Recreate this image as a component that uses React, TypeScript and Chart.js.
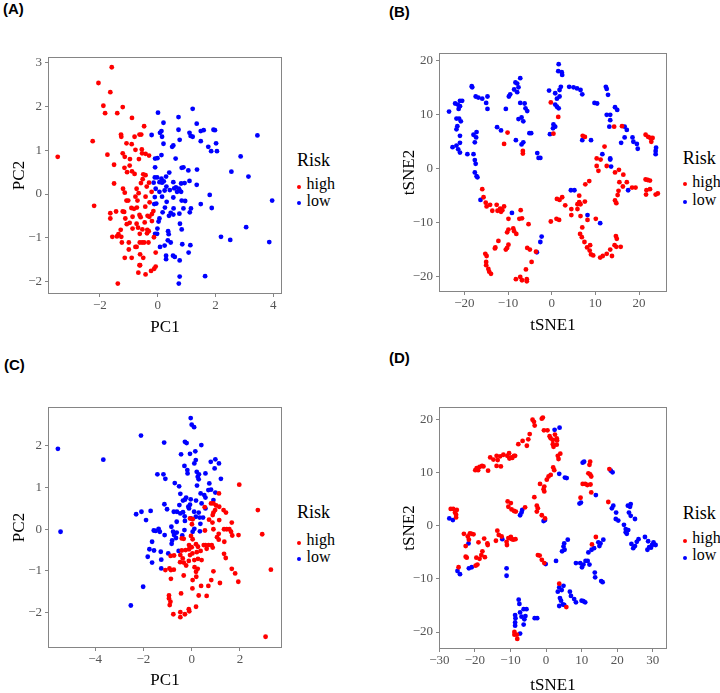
import React, { useEffect, useRef } from "react";
import { Chart, registerables } from "chart.js";

Chart.register(...registerables);

// ---------- Data ----------
// Panel A (PCA)
const aHigh: [number, number][] = [
  [-3.46, 0.85], [-2.05, 2.54], [-1.59, 2.9], [-1.64, 2.33], [-1.88, 2.02], [-1.82, 1.85], [-1.4, 1.85],
  [-1.21, 1.99], [-0.89, 1.74], [-0.47, 1.55], [-2.25, 1.21], [-1.74, 0.9], [-1.27, 1.36], [-1.26, 1.31],
  [-1.08, 1.16], [-0.8, 1.31], [-0.63, 1.36], [-0.57, 1.36], [-0.9, 1.14], [-0.77, 1.01], [-0.55, 1.02],
  [-0.54, 0.93], [-0.42, 0.92], [-0.3, 0.88], [-1.21, 0.93], [-1.14, 0.85], [-0.96, 0.8], [-0.65, 0.8],
  [-1.51, 0.67], [-1.15, 0.6], [-0.97, 0.65], [-1.06, 0.5], [-0.89, 0.52], [-0.8, 0.46], [-0.5, 0.45],
  [-0.42, 0.43], [-0.52, 0.34], [-0.58, 0.25], [-0.3, 0.26], [-1.51, 0.24], [-1.2, 0.12], [-1.14, 0.03],
  [-0.73, 0.12], [-0.66, 0.02], [-0.38, 0.17], [-0.21, 0.05], [-2.2, -0.27], [-1.08, -0.15], [-1.02, -0.15],
  [-0.77, -0.06], [-0.7, -0.15], [-0.42, -0.06], [-0.28, -0.19], [-0.91, -0.32], [-0.82, -0.34], [-0.72, -0.31],
  [-0.43, -0.29], [-1.21, -0.4], [-1.44, -0.4], [-1.16, -0.41], [-1.64, -0.44], [-1.64, -0.56], [-1.12, -0.56],
  [-0.87, -0.52], [-0.63, -0.48], [-0.59, -0.53], [-0.35, -0.5], [-0.29, -0.52], [-0.15, -0.39], [-0.2, -0.46],
  [-0.97, -0.66], [-1.07, -0.69], [-0.73, -0.68], [-0.45, -0.65], [-0.2, -0.62], [-1.28, -0.82], [-0.87, -0.79],
  [-0.68, -0.77], [-0.53, -0.81], [-0.36, -0.82], [-0.31, -0.85], [-1.36, -0.92], [-1.41, -0.97], [-1.57, -0.98],
  [-1.26, -0.98], [-0.62, -0.91], [-0.37, -0.9], [-0.13, -0.99], [-1.24, -1.11], [-1.0, -1.11], [-0.62, -1.11],
  [-0.54, -1.11], [-0.47, -1.11], [-0.32, -1.11], [-0.73, -1.21], [-1.0, -1.27], [-0.77, -1.21], [-0.07, -1.34],
  [-1.14, -1.46], [-0.9, -1.46], [-0.61, -1.38], [-0.5, -1.46], [-0.63, -1.63], [-0.67, -1.8], [-0.42, -1.84],
  [-0.23, -1.76], [-0.07, -1.66], [-0.12, -1.71], [-1.38, -2.05], [-0.61, -1.63],
];
const aLow: [number, number][] = [
  [0.01, 1.86], [1.21, 1.95], [0.72, 1.76], [0.2, 1.63], [1.35, 1.61], [-0.21, 1.35], [0.08, 1.4], [0.13, 1.44],
  [0.15, 1.31], [0.72, 1.47], [1.1, 1.4], [1.14, 1.33], [1.21, 1.31], [0.76, 1.24], [1.49, 1.44], [1.59, 1.46],
  [1.93, 1.47], [1.98, 1.46], [1.49, 1.21], [0.2, 1.15], [0.5, 1.08], [0.54, 1.11], [1.75, 1.08], [1.85, 0.98],
  [2.02, 1.16], [2.05, 0.98], [3.45, 1.34], [2.87, 0.86], [-0.09, 0.81], [-0.01, 0.82], [0.13, 0.89], [0.62, 0.81],
  [-0.09, 0.61], [0.83, 0.6], [0.89, 0.61], [1.06, 0.54], [1.36, 0.56], [2.55, 0.51], [3.14, 0.4], [0.4, 0.49],
  [0.29, 0.4], [-0.1, 0.38], [-0.02, 0.38], [0.13, 0.35], [0.06, 0.27], [0.15, 0.26], [0.21, 0.29], [-0.14, 0.26],
  [1.1, 0.3], [0.93, 0.25], [0.81, 0.24], [1.35, 0.21], [0.54, 0.27], [0.3, 0.17], [-0.07, 0.12], [0.06, 0.05],
  [0.24, 0.08], [0.42, 0.09], [0.57, 0.13], [0.63, 0.15], [0.67, 0.05], [0.76, 0.08], [0.73, 0.12], [0.81, 0.05],
  [1.8, -0.02], [3.96, -0.15], [-0.1, -0.07], [0.15, -0.06], [0.54, -0.08], [0.83, -0.15], [0.95, -0.16],
  [-0.05, -0.22], [-0.12, -0.23], [0.31, -0.18], [1.49, -0.23], [1.87, -0.32], [0.25, -0.31], [0.55, -0.33],
  [0.89, -0.33], [1.15, -0.33], [0.17, -0.42], [0.45, -0.43], [0.75, -0.45], [1.11, -0.42], [0.54, -0.47],
  [0.39, -0.5], [0.06, -0.56], [0.03, -0.63], [0.77, -0.68], [0.83, -0.81], [-0.01, -0.79], [3.06, -0.76],
  [-0.09, -0.91], [-0.02, -0.91], [0.36, -0.85], [0.38, -0.92], [2.19, -0.98], [2.51, -1.05], [3.86, -1.1],
  [0.35, -1.06], [0.45, -1.11], [0.08, -1.21], [0.24, -1.18], [0.85, -1.15], [1.13, -1.17], [1.07, -1.34],
  [0.29, -1.41], [0.29, -1.49], [0.53, -1.41], [0.59, -1.44], [0.76, -1.52], [0.76, -1.89], [1.64, -1.88],
  [0.73, -2.05],
];

// Panel B (t-SNE)
const bHigh: [number, number][] = [
  [-0.2, 12.3], [1.5, 9.6], [0.4, 6.5], [-10.1, 6.7], [-10.9, 4.6], [-6.6, 3.3], [-6.6, 2.8], [7.1, 6.1],
  [7.6, 5.9], [12.1, 4.1], [14.3, 7.8], [16.1, 7.9], [21.5, 6.3], [22.1, 5.9], [22.6, 5.7], [23.1, 5.7],
  [22.8, 5.0], [10.3, 1.9], [11.2, 1.7], [10.3, 0.5], [10.7, -0.4], [12.6, 0.5], [14.5, -0.7], [15.4, -0.2],
  [16.4, -1.1], [15.5, -2.5], [17.2, -2.5], [16.3, -3.3], [15.3, -4.1], [15.1, -4.9], [14.5, -5.9], [14.8, -6.4],
  [18.4, -3.5], [19.2, -3.5], [21.5, -2.0], [22.0, -2.1], [22.5, -2.2], [21.7, -4.0], [22.5, -3.8], [21.6, -4.8],
  [23.8, -4.8], [24.3, -4.6], [8.6, -2.3], [7.7, -2.9], [1.8, -5.8], [1.2, -5.6], [2.4, -5.3], [-0.2, -9.8],
  [1.1, -9.3], [1.7, -9.5], [3.1, -6.8], [4.5, -7.5], [4.5, -8.6], [5.9, -7.5], [5.9, -6.6], [6.3, -6.2],
  [6.6, -6.6], [6.3, -5.0], [7.6, -6.1], [6.6, -8.8], [8.2, -9.5], [7.0, -10.9], [6.5, -12.1], [6.9, -12.7],
  [7.5, -13.6], [8.1, -14.6], [8.7, -15.2], [8.8, -14.2], [9.0, -15.9], [9.5, -16.1], [11.1, -16.5], [11.7, -16.2],
  [12.6, -15.8], [13.4, -15.0], [13.8, -16.2], [14.4, -14.2], [14.8, -14.5], [14.7, -12.5], [14.9, -13.0],
  [15.8, -14.5], [10.1, -9.3], [-15.9, -3.8], [-15.6, -5.3], [-15.1, -6.3], [-14.9, -7.0], [-14.1, -6.7],
  [-13.6, -7.8], [-12.6, -6.7], [-12.4, -7.8], [-11.8, -7.4], [-11.3, -7.7], [-10.9, -7.0], [-11.6, -8.0],
  [-9.9, -9.3], [-10.2, -11.8], [-9.9, -11.3], [-8.8, -11.1], [-8.6, -11.6], [-7.4, -9.3], [-7.1, -7.7],
  [-6.8, -9.2], [-5.3, -10.3], [-8.1, -12.1], [-12.2, -13.4], [-12.9, -14.6], [-13.0, -14.8], [-10.5, -15.0],
  [-10.2, -14.7], [-9.9, -14.1], [-15.2, -15.8], [-14.9, -16.2], [-15.0, -17.3], [-15.0, -17.9], [-14.5, -18.6],
  [-14.3, -19.1], [-13.9, -19.5], [-8.2, -20.5], [-7.2, -20.1], [-6.8, -20.7], [-5.7, -20.5], [-5.7, -20.9],
  [-5.9, -18.7], [-4.6, -17.3], [-5.6, -14.7], [-5.0, -15.0], [-3.6, -15.4],
];
const bLow: [number, number][] = [
  [-23.5, 10.6], [-22.7, 4.0], [-22.1, 12.1], [-21.5, 11.9], [-21.0, 12.6], [-20.5, 12.6], [-21.3, 11.1],
  [-21.0, 11.6], [-21.8, 9.3], [-21.2, 9.3], [-20.8, 8.8], [-21.6, 7.9], [-21.8, 7.3], [-21.0, 6.1], [-21.0, 4.8],
  [-21.8, 4.3], [-21.4, 3.6], [-21.0, 3.0], [-19.3, 2.7], [-18.3, 15.3], [-18.2, 15.1], [-17.4, 13.4],
  [-16.8, 13.2], [-15.9, 13.0], [-14.7, 13.4], [-15.0, 12.2], [-14.7, 11.1], [-17.9, 6.3], [-17.2, 6.8],
  [-17.3, 5.8], [-17.6, 4.9], [-17.9, 2.7], [-17.6, 1.6], [-17.4, 0.9], [-17.6, -0.7], [-17.2, -1.4],
  [-17.0, -1.6], [-16.3, -5.8], [-12.5, 7.7], [-11.6, 7.1], [-10.5, 11.1], [-9.8, 13.4], [-9.5, 13.8],
  [-8.6, 14.7], [-8.3, 16.0], [-7.9, 15.8], [-7.6, 15.1], [-7.2, 16.8], [-7.9, 14.2], [-7.2, 12.2], [-6.2, 12.1],
  [-6.0, 11.2], [-5.6, 10.7], [-7.6, 9.2], [-6.9, 9.5], [-6.5, 8.8], [-8.2, 5.3], [-6.5, 4.9], [-6.9, 4.5],
  [-5.1, 6.6], [-4.7, 6.6], [-3.3, 2.9], [-3.0, 2.0], [-2.6, 2.0], [-9.1, -8.2], [-3.4, -15.5], [-2.6, -13.6],
  [-2.3, -12.6], [-0.6, 14.5], [-0.4, 6.4], [0.3, 7.5], [0.4, 8.2], [0.8, 7.8], [0.8, 11.9], [0.8, 14.0],
  [1.2, 13.0], [1.6, 19.4], [1.5, 18.1], [2.3, 17.9], [2.4, 17.4], [1.8, 14.6], [1.8, 13.4], [2.1, 15.2],
  [1.2, 11.5], [1.6, 11.2], [4.0, 15.2], [5.0, 15.1], [5.8, 14.9], [6.6, 14.6], [7.0, 13.8], [9.8, 12.2],
  [10.4, 12.1], [12.4, 15.2], [12.6, 14.8], [12.9, 13.7], [12.6, 10.0], [13.4, 10.0], [13.4, 9.0], [13.2, 7.8],
  [14.5, 11.4], [15.0, 10.9], [16.7, 7.8], [17.2, 7.2], [16.7, 5.8], [15.9, 4.8], [18.5, 5.8], [18.7, 5.0],
  [19.5, 4.6], [19.7, 3.7], [23.9, 3.9], [23.8, 3.3], [23.8, 2.7], [7.0, 5.3], [9.0, 5.3], [11.6, 2.7],
  [13.4, 1.7], [13.6, 0.4], [13.4, 1.9], [4.4, -4.0], [5.2, -4.0], [8.2, -8.6], [11.1, -10.1], [17.5, -4.0],
];

// Panel C (PCA)
const cHigh: [number, number][] = [
  [1.97, 1.07], [1.13, 0.86], [0.8, 0.62], [0.9, 0.62], [1.01, 0.57], [1.14, 0.54], [0.54, 0.53], [0.97, 0.46],
  [0.9, 0.4], [0.87, 0.34], [1.32, 0.46], [1.42, 0.4], [0.04, 0.24], [-0.07, 0.26], [0.72, 0.23], [1.14, 0.22],
  [0.86, 0.16], [1.66, 0.16], [2.74, 0.46], [2.92, -0.12], [3.28, -0.97], [3.06, -2.58], [0.01, 0.12],
  [0.55, -0.03], [0.9, 0.0], [1.12, -0.11], [1.34, 0.0], [1.45, 0.0], [1.56, 0.0], [1.63, -0.06], [1.68, -0.15],
  [1.94, -0.14], [1.05, -0.19], [1.12, -0.25], [1.35, -0.3], [-0.41, -0.22], [-0.33, -0.23], [-0.03, -0.16],
  [0.04, -0.24], [0.18, -0.36], [-0.11, -0.38], [0.0, -0.43], [-0.11, -0.48], [-0.25, -0.5], [-0.41, -0.51],
  [0.26, -0.42], [0.37, -0.52], [0.5, -0.38], [0.57, -0.38], [0.7, -0.38], [0.83, -0.38], [0.62, -0.47],
  [0.87, -0.44], [-0.47, -0.62], [-0.87, -0.64], [-0.73, -0.63], [-0.37, -0.7], [-0.07, -0.62], [0.03, -0.58],
  [0.21, -0.55], [0.26, -0.71], [0.11, -0.74], [0.41, -0.74], [1.34, -0.59], [1.41, -0.69], [-0.48, -0.79],
  [-0.33, -0.8], [-0.12, -0.76], [-0.23, -0.87], [0.12, -0.91], [-1.09, -0.98], [-0.92, -0.94], [-0.86, -0.98],
  [-0.74, -0.97], [0.18, -1.02], [0.25, -0.95], [0.9, -1.01], [1.66, -0.95], [1.8, -1.06], [-0.86, -1.19],
  [-0.33, -1.11], [0.04, -1.22], [0.19, -1.14], [0.81, -1.22], [1.17, -1.29], [1.93, -1.26], [0.03, -1.42],
  [0.39, -1.36], [0.69, -1.36], [-0.44, -1.54], [-0.94, -1.59], [-0.94, -1.66], [-0.88, -1.74], [-0.91, -1.82],
  [0.29, -1.59], [0.62, -1.6], [0.18, -1.86], [-0.76, -2.04], [-0.47, -1.99], [-0.47, -2.11], [-0.28, -2.04],
  [-0.12, -1.92], [-0.1, -1.97],
];
const cLow: [number, number][] = [
  [-5.54, 1.93], [-5.43, -0.06], [-3.66, 1.67], [-2.1, 2.25], [-2.3, 0.36], [-2.52, -1.83], [-2.01, -1.38],
  [-1.14, 2.08], [-1.42, 1.32], [-1.17, 1.32], [-1.09, 1.21], [-0.7, 1.11], [-0.52, 1.03], [-0.04, 2.67],
  [0.0, 2.51], [0.1, 2.45], [-0.28, 2.1], [-0.21, 2.07], [-0.44, 1.8], [-0.07, 1.81], [0.15, 1.87], [0.4, 2.02],
  [-0.3, 1.52], [0.17, 1.66], [0.11, 1.58], [-0.18, 1.42], [-0.17, 1.34], [0.21, 1.38], [0.3, 1.32], [0.25, 1.26],
  [0.29, 1.2], [0.57, 1.34], [0.79, 1.62], [0.98, 1.68], [1.13, 1.58], [0.95, 1.46], [1.21, 1.21], [0.22, 1.05],
  [0.73, 1.1], [0.8, 0.95], [0.69, 0.94], [0.98, 0.88], [-0.47, 0.85], [0.37, 0.86], [0.52, 0.82], [-0.23, 0.76],
  [-0.28, 0.71], [-0.36, 0.69], [-0.04, 0.72], [0.18, 0.69], [0.41, 0.62], [0.57, 0.76], [0.9, 0.7], [-1.13, 0.6],
  [-1.02, 0.48], [-0.51, 0.58], [-0.14, 0.54], [-0.07, 0.59], [-0.11, 0.5], [0.1, 0.42], [0.29, 0.4], [0.57, 0.5],
  [-0.74, 0.42], [-0.61, 0.42], [-0.47, 0.38], [-0.36, 0.41], [-0.29, 0.31], [-0.28, 0.2], [-0.62, 0.18],
  [-0.03, 0.26], [0.17, 0.3], [0.33, 0.28], [0.47, 0.28], [0.36, 0.13], [-2.08, 0.42], [-1.89, 0.22],
  [-1.7, 0.44], [-0.84, 0.06], [-1.57, -0.03], [-1.49, -0.04], [-1.37, 0.01], [-1.32, -0.06], [-1.12, -0.14],
  [-0.77, -0.06], [-0.73, -0.14], [-0.62, -0.08], [-1.64, -0.3], [-0.81, -0.27], [-0.83, -0.35], [-0.65, -0.21],
  [-0.39, -0.15], [-0.3, -0.02], [0.04, -0.06], [0.11, 0.01], [0.34, -0.05], [-1.75, -0.48], [-1.56, -0.51],
  [-1.82, -0.66], [-1.28, -0.54], [-1.64, -0.8], [-1.26, -0.73], [-0.97, -0.58], [-0.54, -0.52], [-1.26, -0.94],
];

// Panel D (t-SNE)
const dHigh: [number, number][] = [
  [-3.8, 20.0], [-3.4, 19.6], [-3.2, 18.9], [-1.2, 20.2], [-0.9, 20.4], [-0.6, 18.0], [0.4, 18.0], [1.3, 16.5],
  [1.9, 16.2], [3.0, 16.5], [3.1, 16.1], [2.5, 17.2], [1.9, 15.4], [2.1, 14.9], [3.0, 15.3], [1.0, 16.9],
  [-7.8, 15.4], [-6.6, 16.0], [-5.4, 15.1], [-5.0, 16.3], [-4.6, 17.3], [3.3, 13.2], [4.0, 13.6], [3.5, 12.6],
  [-12.0, 13.4], [-10.9, 13.2], [-10.3, 12.7], [-9.8, 12.9], [-9.5, 12.8], [-8.7, 13.2], [-10.4, 13.7],
  [-9.0, 13.2], [-13.9, 13.2], [-13.6, 12.4], [-12.9, 13.1], [-14.8, 12.5], [-15.7, 12.9], [-12.7, 11.2],
  [-13.9, 11.3], [-16.3, 10.4], [-17.6, 11.2], [-18.0, 11.3], [-18.7, 11.1], [-19.5, 10.9], [-19.1, 10.5],
  [-19.9, 10.5], [2.3, 10.5], [2.0, 11.0], [1.3, 9.6], [0.7, 9.3], [0.2, 8.7], [-0.5, 7.4], [-0.7, 6.9],
  [-0.5, 6.5], [-1.7, 7.9], [-3.3, 5.4], [-2.6, 3.8], [-2.3, 3.3], [-2.6, 2.7], [-1.2, 2.0], [-0.3, 1.4],
  [-10.8, 4.6], [-9.9, 4.3], [-10.6, 3.6], [-9.7, 3.1], [-9.0, 2.8], [-8.5, 2.7], [-5.9, 3.5], [12.4, 12.1],
  [12.2, 11.5], [11.9, 9.9], [12.4, 9.7], [12.7, 9.3], [10.3, 7.9], [11.0, 7.9], [11.6, 7.7], [12.5, 7.8],
  [12.7, 6.3], [9.7, 5.3], [17.8, 10.7], [17.5, 4.5], [12.9, -3.5], [14.0, -2.1], [-26.8, 3.2], [-26.1, 3.2],
  [-25.1, 3.0], [-25.6, 2.5], [-25.3, 2.1], [-25.3, 1.6], [-24.6, -7.8], [-23.1, -1.5], [-22.0, -2.0],
  [-21.4, -1.4], [-20.9, -1.5], [-20.4, -1.6], [-21.7, -2.6], [-22.6, -3.8], [-22.6, -5.8], [-22.3, -6.0],
  [-19.0, -3.1], [-17.4, -2.4], [-16.5, -3.3], [-16.4, -3.6], [-17.9, -4.8], [-18.2, -5.5], [-17.2, -5.9],
  [-19.6, -6.0], [-19.8, -7.5], [-19.3, -7.3], [-18.7, -6.2], [-13.7, -0.9], [-14.1, -2.8], [-13.3, -1.7],
  [-12.5, -2.0], [-11.1, -3.0], [-11.0, -3.6], [-10.3, -2.3], [-9.9, -2.1], [-9.6, -2.5], [-9.2, -2.6],
  [-8.6, -2.5], [-10.6, -2.3], [-2.3, -5.5], [-1.8, -5.6], [-1.2, -6.4], [-0.5, -7.0], [3.7, -10.9],
  [5.7, -15.3], [-8.9, -20.5], [-8.2, -20.5], [-8.1, -21.3], [-8.9, -20.0],
];
const dLow: [number, number][] = [
  [2.4, 18.1], [3.8, 18.5], [3.7, 9.8], [5.3, 9.1], [5.8, 9.0], [10.7, 12.1], [10.3, 11.9], [14.0, 5.8],
  [9.4, 4.2], [9.8, 4.4], [18.2, 10.4], [18.7, 10.1], [18.5, 3.3], [18.9, 3.8], [19.7, 2.5], [19.6, 1.3],
  [20.3, 1.0], [21.9, 0.2], [22.4, -0.6], [22.4, -1.2], [22.7, -1.5], [23.1, -0.8], [23.0, 3.8], [23.8, 4.1],
  [23.6, 3.6], [23.3, 2.5], [23.8, 1.9], [25.0, 1.3], [24.0, -3.4], [24.5, -4.2], [25.0, -3.8], [25.5, -3.0],
  [26.0, -2.5], [27.8, -2.1], [28.7, -2.9], [28.5, -4.5], [29.0, -4.0], [29.5, -4.1], [30.2, -3.1], [30.8, -3.6],
  [29.8, -3.6], [-27.2, 1.4], [-26.2, 1.1], [-24.9, -8.5], [-24.2, -9.1], [-21.8, -3.3], [-21.7, -8.0],
  [-20.9, -7.8], [-12.3, -2.5], [-11.1, -8.0], [-11.1, -9.4], [-6.7, 3.0], [-7.3, 2.0], [-6.9, 2.5], [-0.7, 0.9],
  [-0.3, 1.1], [-0.1, -7.2], [2.8, -6.6], [4.5, -4.8], [4.9, -3.9], [5.1, -3.3], [6.1, -2.6], [5.2, -4.5],
  [8.4, -7.0], [9.6, -7.0], [10.5, -7.3], [11.1, -6.6], [11.7, -6.6], [12.2, -7.3], [10.1, -7.8], [11.9, -5.0],
  [12.8, -4.5], [13.5, -4.2], [14.7, -3.1], [15.3, -3.3], [16.1, -2.6], [15.0, -3.8], [13.7, -8.8], [13.8, -9.7],
  [15.5, -10.4], [15.9, -10.6], [3.3, -12.4], [3.7, -11.6], [4.4, -12.1], [4.9, -11.3], [3.9, -13.6],
  [4.2, -14.1], [3.7, -15.1], [4.7, -14.8], [5.1, -14.9], [6.7, -12.4], [7.0, -13.2], [7.9, -13.8], [8.4, -14.4],
  [10.0, -14.1], [10.5, -14.2], [11.0, -14.4], [-7.7, -13.9], [-7.5, -14.7], [-8.7, -16.8], [-8.6, -17.4],
  [-8.7, -18.2], [-8.7, -18.8], [-7.3, -16.3], [-6.9, -17.1], [-6.3, -15.7], [-5.5, -15.7], [-5.8, -17.0],
  [-6.1, -17.6], [-6.3, -18.6], [-7.3, -20.3], [-3.2, -17.4], [-2.5, -17.4],
];

// Tick values
const aXTicks = [-2, 0, 2, 4];
const aYTicks = [-2, -1, 0, 1, 2, 3];
const bXTicks = [-20, -10, 0, 10, 20];
const bYTicks = [-20, -10, 0, 10, 20];
const cXTicks = [-4, -2, 0, 2];
const cYTicks = [-2, -1, 0, 1, 2];
const dXTicks = [-30, -20, -10, 0, 10, 20, 30];
const dYTicks = [-20, -10, 0, 10, 20];

const groups = ["high", "low"];
const groupColors = ["#FF0000", "#0000FF"];

// ---------- Layout ----------
const WY = 40;
const HX = 50;
const PAD_T = 10;
const PAD_R = 10;
const SERIF = "'Liberation Serif', 'Times New Roman', serif";

type PanelCfg = {
  label: string;
  high: [number, number][];
  low: [number, number][];
  xTitle: string;
  yTitle: string;
  xTicks: number[];
  yTicks: number[];
  xMin: number; xMax: number; yMin: number; yMax: number;
  rect: { l: number; t: number; r: number; b: number };
  xTitleGap: number;
  yTitleGap: number;
  labelPos: { x: number; y: number };
  legend: { x: number; riskY: number; highY: number; lowY: number };
};

const panels: PanelCfg[] = [
  {
    label: "(A)", high: aHigh, low: aLow, xTitle: "PC1", yTitle: "PC2", xTicks: aXTicks, yTicks: aYTicks,
    xMin: -3.796, xMax: 4.301, yMin: -2.288, yMax: 3.135,
    rect: { l: 48, t: 57, r: 282, b: 294 }, xTitleGap: 34, yTitleGap: 28,
    labelPos: { x: 3, y: 9 }, legend: { x: 297, riskY: 161, highY: 185, lowY: 201.5 },
  },
  {
    label: "(B)", high: bHigh, low: bLow, xTitle: "tSNE1", yTitle: "tSNE2", xTicks: bXTicks, yTicks: bYTicks,
    xMin: -25.8, xMax: 26.4, yMin: -22.88, yMax: 21.47,
    rect: { l: 439, t: 53, r: 667, b: 292 }, xTitleGap: 34, yTitleGap: 29,
    labelPos: { x: 389, y: 11.5 }, legend: { x: 682.7, riskY: 159.3, highY: 182.7, lowY: 200.7 },
  },
  {
    label: "(C)", high: cHigh, low: cLow, xTitle: "PC1", yTitle: "PC2", xTicks: cXTicks, yTicks: cYTicks,
    xMin: -5.95, xMax: 3.74, yMin: -2.85, yMax: 2.935,
    rect: { l: 48, t: 407, r: 282, b: 648 }, xTitleGap: 33, yTitleGap: 28,
    labelPos: { x: 4, y: 365 }, legend: { x: 297, riskY: 512.7, highY: 541, lowY: 557.7 },
  },
  {
    label: "(D)", high: dHigh, low: dLow, xTitle: "tSNE1", yTitle: "tSNE2", xTicks: dXTicks, yTicks: dYTicks,
    xMin: -30.1, xMax: 34.0, yMin: -23.2, yMax: 22.4,
    rect: { l: 439, t: 407, r: 667, b: 649 }, xTitleGap: 37, yTitleGap: 29,
    labelPos: { x: 389, y: 358.3 }, legend: { x: 682.7, riskY: 514, highY: 539.3, lowY: 556 },
  },
];

const fmt = (v: number) => (v < 0 ? "\u2212" + Math.abs(v) : String(v));

const borderPlugin = {
  id: "panelBorder",
  beforeDatasetsDraw(chart: any) {
    const { ctx, chartArea } = chart;
    ctx.save();
    ctx.strokeStyle = "#858585";
    ctx.lineWidth = 1;
    ctx.strokeRect(chartArea.left + 0.5, chartArea.top + 0.5, chartArea.right - chartArea.left - 1, chartArea.bottom - chartArea.top - 1);
    ctx.restore();
  },
};

function Panel({ cfg }: { cfg: PanelCfg }) {
  const ref = useRef<HTMLCanvasElement>(null);
  const { l, t, r, b } = cfg.rect;
  const cw = r - l + WY + PAD_R;
  const ch = b - t + PAD_T + HX;
  const titleSize = 17;
  const half = (titleSize * 1.2) / 2;

  useEffect(() => {
    if (!ref.current) return;
    const tickFont = { family: SERIF, size: 13 };
    const chart = new Chart(ref.current, {
      type: "scatter",
      data: {
        datasets: [
          {
            label: groups[0],
            data: cfg.high.map(([x, y]) => ({ x, y })),
            backgroundColor: groupColors[0],
            borderWidth: 0,
            pointRadius: 2.4,
          },
          {
            label: groups[1],
            data: cfg.low.map(([x, y]) => ({ x, y })),
            backgroundColor: groupColors[1],
            borderWidth: 0,
            pointRadius: 2.4,
          },
        ],
      },
      options: {
        responsive: false,
        animation: false,
        layout: { padding: { left: 0, top: PAD_T, right: PAD_R, bottom: 0 } },
        plugins: { legend: { display: false }, tooltip: { enabled: false } },
        scales: {
          x: {
            type: "linear",
            min: cfg.xMin,
            max: cfg.xMax,
            grid: { drawOnChartArea: false, drawTicks: true, tickLength: 3, tickColor: "#858585" },
            border: { display: false },
            ticks: { font: tickFont, color: "#555555", padding: 1, autoSkip: false, maxRotation: 0, callback: (v: any) => fmt(Number(v)) },
            afterBuildTicks: (axis: any) => { axis.ticks = cfg.xTicks.map((v) => ({ value: v })); },
            afterFit: (s: any) => { s.height = HX; s.paddingLeft = 0; s.paddingRight = 0; s.paddingTop = 0; s.paddingBottom = 0; },
            title: {
              display: true, text: cfg.xTitle, color: "#000",
              font: { family: SERIF, size: titleSize },
              padding: { top: 0, bottom: HX - half - cfg.xTitleGap },
            },
          },
          y: {
            type: "linear",
            min: cfg.yMin,
            max: cfg.yMax,
            grid: { drawOnChartArea: false, drawTicks: true, tickLength: 3, tickColor: "#858585" },
            border: { display: false },
            ticks: { font: tickFont, color: "#555555", padding: 3, autoSkip: false, callback: (v: any) => fmt(Number(v)) },
            afterBuildTicks: (axis: any) => { axis.ticks = cfg.yTicks.map((v) => ({ value: v })); },
            afterFit: (s: any) => { s.width = WY; s.paddingLeft = 0; s.paddingRight = 0; s.paddingTop = 0; s.paddingBottom = 0; },
            title: {
              display: true, text: cfg.yTitle, color: "#000",
              font: { family: SERIF, size: titleSize },
              padding: { top: WY - half - cfg.yTitleGap, bottom: 0 },
            },
          },
        },
      },
      plugins: [borderPlugin],
    } as any);
    return () => chart.destroy();
  }, []);

  const lg = cfg.legend;
  return (
    <>
      <canvas
        ref={ref}
        width={cw}
        height={ch}
        style={{ position: "absolute", left: l - WY, top: t - PAD_T, width: cw, height: ch }}
      />
      <div style={{ position: "absolute", left: cfg.labelPos.x, top: cfg.labelPos.y - 9, height: 18, lineHeight: "18px", font: "bold 15px 'Liberation Sans', Arial, sans-serif", color: "#000", whiteSpace: "nowrap" }}>
        {cfg.label}
      </div>
      <div style={{ position: "absolute", left: lg.x, top: lg.riskY - 11, height: 20, lineHeight: "20px", fontFamily: SERIF, fontSize: 18, color: "#000", whiteSpace: "nowrap" }}>
        Risk
      </div>
      {groups.map((g, i) => {
        const cy = i === 0 ? lg.highY : lg.lowY;
        return (
          <React.Fragment key={g}>
            <div style={{ position: "absolute", left: lg.x + 0.3, top: cy - 0.5, width: 4, height: 4, borderRadius: "50%", background: groupColors[i] }} />
            <div style={{ position: "absolute", left: lg.x + 9.5, top: cy - 10, height: 18, lineHeight: "18px", fontFamily: SERIF, fontSize: 16, color: "#000", whiteSpace: "nowrap" }}>
              {g}
            </div>
          </React.Fragment>
        );
      })}
    </>
  );
}

export default function App() {
  return (
    <div style={{ position: "absolute", left: 0, top: 0, width: 720, height: 693, overflow: "hidden", background: "#fff" }}>
      {panels.map((p) => (
        <Panel key={p.label} cfg={p} />
      ))}
    </div>
  );
}
